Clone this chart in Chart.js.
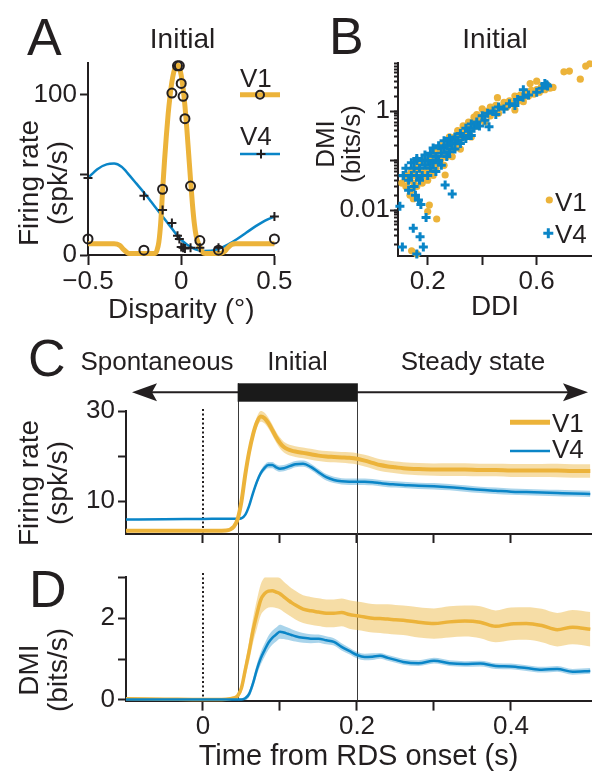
<!DOCTYPE html>
<html>
<head>
<meta charset="utf-8">
<title>Initial disparity signals in V1 and V4</title>
<script src="https://cdn.jsdelivr.net/npm/chart.js@4.4.1/dist/chart.umd.min.js"></script>
<style>
  html, body { margin: 0; padding: 0; background: #fff; }
  #fig { position: relative; width: 592px; height: 779px; overflow: hidden;
         font-family: 'Liberation Sans', Arial, Helvetica, sans-serif; color: #231f20; }
  #fig canvas { position: absolute; display: block; }
  .txt { position: absolute; line-height: 1; white-space: nowrap; }
  .letter { font-size: 52px; }
  .head { font-size: 28px; width: 200px; text-align: center; }
  .phase { font-size: 26px; width: 220px; text-align: center; }
  .leg { font-size: 26px; }
  .ytitle { position: absolute; width: 220px; text-align: center; white-space: nowrap; transform: rotate(-90deg); }
</style>
</head>
<body>
<div id="fig">
  <canvas id="chartA" width="296" height="330" style="left:0;top:0"></canvas>
  <canvas id="chartB" width="296" height="330" style="left:296px;top:0"></canvas>
  <canvas id="chartC" width="592" height="215" style="left:0;top:335px"></canvas>
  <canvas id="chartD" width="592" height="229" style="left:0;top:550px"></canvas>

  <div class="txt letter" style="left:27px;top:11px">A</div>
  <div class="txt letter" style="left:329px;top:10px">B</div>
  <div class="txt letter" style="left:28px;top:332px">C</div>
  <div class="txt letter" style="left:29px;top:563px">D</div>

  <div class="txt head" style="left:82.5px;top:24.6px">Initial</div>
  <div class="txt head" style="left:395px;top:24.6px">Initial</div>

  <div class="txt phase" style="left:47px;top:348px">Spontaneous</div>
  <div class="txt phase" style="left:187.5px;top:348px">Initial</div>
  <div class="txt phase" style="left:363px;top:348px">Steady state</div>

  <div class="txt leg" style="left:240px;top:65px">V1</div>
  <div class="txt leg" style="left:240px;top:123px">V4</div>
  <div class="txt leg" style="left:555px;top:189px">V1</div>
  <div class="txt leg" style="left:555px;top:221px">V4</div>
  <div class="txt leg" style="left:552px;top:409.7px">V1</div>
  <div class="txt leg" style="left:552px;top:436.3px">V4</div>

  <div class="ytitle" style="font-size:28px;line-height:29px;left:-67.5px;top:154px">Firing rate<br>(spk/s)</div>
  <div class="ytitle" style="font-size:26px;line-height:26px;left:228px;top:118px">DMI<br>(bits/s)</div>
  <div class="ytitle" style="font-size:28px;line-height:29px;left:-67.5px;top:454px">Firing rate<br>(spk/s)</div>
  <div class="ytitle" style="font-size:28px;line-height:29px;left:-67.5px;top:641px">DMI<br>(bits/s)</div>
</div>

<script>
// ---- Panel A: example tuning curves (disparity in deg, rate in spk/s)
const dispPoints = [-0.5, -0.2, -0.1, -0.05, -0.02, -0.01, 0, 0.01, 0.02, 0.05, 0.1, 0.2, 0.5];
const ratePointsV1 = [10, 3, 41, 101, 118, 118, 107, 99, 85, 43, 9, 3, 10];
const ratePointsV4 = [48, 37, 28, 20, 12, 10, 5, 4.5, 4, 4.5, 4.5, 4.5, 24];

const fitDispV1 = [-0.5, -0.36, -0.33, -0.31, -0.29, -0.28, -0.14, -0.13, -0.12, -0.11,
                   -0.1, -0.09, -0.08, -0.07, -0.06, -0.05, -0.04, -0.03, -0.02, -0.01,
                   0, 0.01, 0.02, 0.03, 0.04, 0.05, 0.06, 0.07, 0.08, 0.09,
                   0.1, 0.11, 0.12, 0.13, 0.21, 0.23, 0.25, 0.27, 0.29, 0.5];
const fitRateV1 = [7, 7, 6, 3.5, 1.5, 1, 1, 3, 8, 20,
                   40, 58, 74, 88, 99, 108, 114, 117.5, 118.5, 117,
                   112, 104, 93, 79, 63, 47, 32, 20, 12, 8,
                   5, 2.5, 1.2, 1, 1, 2, 4.5, 6.5, 7, 7];
const fitDispV4 = [-0.5, -0.45, -0.4, -0.36, -0.32, -0.28, -0.24, -0.2, -0.16, -0.12, -0.08, -0.05, -0.02,
                   0, 0.03, 0.06, 0.09, 0.12, 0.16, 0.2, 0.25, 0.3, 0.35, 0.4, 0.45, 0.5];
const fitRateV4 = [48, 53.5, 56.5, 57, 55, 50, 44.5, 39, 33, 27, 21, 16.5, 12,
                   9.5, 6.5, 4.5, 3.1, 2.5, 2.6, 3.8, 6.5, 10, 14, 18, 21.5, 24];

const dispTicks = [-0.5, 0, 0.5];
const dispTickLabels = ['\u22120.5', '0', '0.5'];
const rateTicksA = [0, 50, 100];
const rateTickLabelsA = ['0', '', '100'];

// ---- Panel B: DMI vs DDI per neuron, [DDI, DMI]
const scatterV1 = [
  [0.12,0.03],[0.12,0.05],[0.13,0.04],[0.14,0.025],[0.14,0.06],[0.15,0.035],[0.15,0.05],[0.16,0.03],
  [0.16,0.07],[0.17,0.045],[0.17,0.09],[0.18,0.035],[0.18,0.06],[0.19,0.05],[0.19,0.1],[0.2,0.04],
  [0.2,0.07],[0.21,0.06],[0.21,0.11],[0.22,0.05],[0.22,0.09],[0.22,0.15],[0.23,0.07],[0.23,0.12],
  [0.24,0.09],[0.24,0.17],[0.25,0.11],[0.25,0.2],[0.26,0.08],[0.26,0.14],[0.27,0.12],[0.27,0.22],
  [0.28,0.16],[0.28,0.3],[0.29,0.12],[0.29,0.2],[0.3,0.18],[0.3,0.3],[0.31,0.22],[0.31,0.4],
  [0.32,0.28],[0.32,0.17],[0.33,0.35],[0.33,0.5],[0.34,0.3],[0.34,0.45],[0.35,0.38],[0.35,0.6],
  [0.36,0.45],[0.36,0.3],[0.37,0.55],[0.37,0.75],[0.38,0.5],[0.38,0.85],[0.39,0.65],[0.4,0.75],
  [0.4,1.1],[0.41,0.6],[0.41,0.9],[0.42,1.0],[0.43,0.8],[0.43,1.2],[0.44,1.0],[0.45,1.3],
  [0.46,0.9],[0.47,1.2],[0.48,1.5],[0.49,1.2],[0.5,1.6],[0.51,1.4],[0.52,2.0],[0.53,1.6],
  [0.54,2.1],[0.55,1.8],[0.56,2.4],[0.57,2.0],[0.58,2.6],[0.59,2.2],[0.6,2.7],[0.61,2.4],
  [0.62,3.1],[0.63,2.7],[0.64,3.3],[0.66,3.0],
  [0.105,0.035],[0.135,0.02],[0.147,0.017],[0.206,0.0126],[0.2,0.0093],[0.233,0.0066],[0.141,0.0015],
  [0.16,0.0013],[0.264,0.051],[0.456,1.86],[0.52,1.05],[0.551,1.54],[0.576,3.6],[0.649,2.9],
  [0.6,4.0],[0.618,3.1],[0.7,6.2],[0.72,6.4],[0.78,8.1],[0.795,9.0],[0.76,4.4]
];
const scatterV4 = [
  [0.11,0.05],[0.12,0.07],[0.13,0.04],[0.14,0.09],[0.14,0.05],[0.15,0.03],[0.15,0.07],[0.16,0.05],
  [0.16,0.1],[0.17,0.04],[0.17,0.07],[0.18,0.1],[0.18,0.05],[0.19,0.08],[0.19,0.13],[0.2,0.05],
  [0.2,0.1],[0.21,0.07],[0.21,0.14],[0.22,0.09],[0.22,0.18],[0.23,0.06],[0.23,0.12],[0.24,0.1],
  [0.24,0.2],[0.25,0.14],[0.25,0.08],[0.26,0.18],[0.26,0.25],[0.27,0.12],[0.27,0.2],[0.28,0.15],
  [0.28,0.28],[0.29,0.22],[0.3,0.3],[0.3,0.17],[0.31,0.25],[0.32,0.35],[0.32,0.22],[0.33,0.3],
  [0.34,0.45],[0.34,0.28],[0.35,0.4],[0.36,0.55],[0.36,0.32],[0.37,0.45],[0.38,0.6],[0.39,0.5],
  [0.4,0.8],[0.41,0.65],[0.42,0.9],[0.44,1.0],[0.45,0.85],[0.46,1.2],[0.48,1.1],[0.5,1.4],
  [0.52,1.3],[0.53,1.7],[0.55,1.9],[0.57,2.1],[0.6,2.4],[0.62,2.9],[0.64,3.2],
  [0.111,0.049],[0.098,0.012],[0.107,0.0018],[0.147,0.0043],[0.172,0.0029],[0.184,0.0018],[0.16,0.0013],
  [0.194,0.0071],[0.29,0.021],[0.264,0.032],[0.166,0.016],[0.16,0.11],[0.425,0.48],[0.63,3.6],
  [0.551,2.7],[0.637,3.4],[0.155,0.02],[0.175,0.013],[0.13,0.025]
];
const ddiTicks = [0.2, 0.4, 0.6];
const ddiTickLabels = ['0.2', '', '0.6'];
const dmiMajorTicks = [0.01, 0.1, 1];
const dmiTickLabels = { '0.01': '0.01', '1': '1' };

// ---- Panels C, D: population time courses (s from RDS onset)
const timeGrid = [-0.1, -0.05, 0, 0.03, 0.04, 0.045, 0.05, 0.055, 0.06, 0.065,
                  0.07, 0.075, 0.08, 0.085, 0.09, 0.095, 0.1, 0.105, 0.11, 0.115,
                  0.12, 0.13, 0.14, 0.15, 0.16, 0.17, 0.18, 0.19, 0.2, 0.21,
                  0.22, 0.23, 0.24, 0.25, 0.26, 0.28, 0.3, 0.32, 0.34, 0.36,
                  0.38, 0.4, 0.42, 0.44, 0.46, 0.48, 0.503];
const rateV1 = [3.4, 3.4, 3.4, 3.5, 4.3, 6.0, 10, 16, 21, 24.8,
                27.5, 28.8, 28.4, 27.3, 25.8, 24.2, 22.9, 22.0, 21.5, 21.2,
                21.0, 20.7, 20.4, 20.1, 19.9, 19.8, 19.7, 19.6, 19.4, 19.0,
                18.5, 18.0, 17.7, 17.5, 17.3, 17.1, 17.0, 17.0, 17.0, 16.9,
                16.9, 16.8, 16.8, 16.8, 16.8, 16.7, 16.7];
const rateV1Sem = [0.2, 0.2, 0.2, 0.2, 0.25, 0.35, 0.6, 0.8, 1.0, 1.1,
                   1.2, 1.2, 1.2, 1.2, 1.2, 1.2, 1.2, 1.2, 1.2, 1.2,
                   1.2, 1.2, 1.2, 1.2, 1.2, 1.2, 1.2, 1.25, 1.25, 1.3,
                   1.3, 1.3, 1.3, 1.3, 1.35, 1.35, 1.35, 1.4, 1.4, 1.4,
                   1.4, 1.45, 1.45, 1.45, 1.5, 1.5, 1.5];
const rateV4 = [5.9, 6.0, 6.05, 6.1, 6.1, 6.1, 6.2, 7.0, 9.0, 11.8,
                14.3, 16.2, 17.4, 18.0, 18.0, 17.5, 17.2, 17.3, 17.6, 17.9,
                18.2, 18.3, 17.6, 16.4, 15.3, 14.7, 14.4, 14.3, 14.3, 14.3,
                14.2, 14.0, 13.8, 13.7, 13.6, 13.4, 13.3, 13.1, 12.8, 12.5,
                12.3, 12.1, 12.0, 11.9, 11.8, 11.7, 11.6];
const rateV4Sem = [0.15, 0.15, 0.15, 0.15, 0.15, 0.15, 0.2, 0.3, 0.4, 0.5,
                   0.6, 0.65, 0.7, 0.7, 0.7, 0.7, 0.7, 0.7, 0.7, 0.7,
                   0.7, 0.7, 0.7, 0.7, 0.7, 0.7, 0.7, 0.7, 0.7, 0.7,
                   0.7, 0.7, 0.7, 0.7, 0.7, 0.7, 0.7, 0.7, 0.7, 0.7,
                   0.7, 0.7, 0.7, 0.7, 0.7, 0.7, 0.7];
const dmiV1 = [0.03, 0.02, 0.01, 0.02, 0.05, 0.1, 0.3, 0.75, 1.2, 1.7,
               2.1, 2.45, 2.6, 2.66, 2.67, 2.64, 2.6, 2.52, 2.45, 2.38,
               2.32, 2.22, 2.18, 2.15, 2.12, 2.12, 2.14, 2.09, 2.06, 2.03,
               2.0, 1.99, 1.98, 1.96, 1.95, 1.9, 1.87, 1.91, 1.93, 1.9,
               1.8, 1.86, 1.87, 1.82, 1.72, 1.78, 1.73];
const dmiV1Sem = [0.03, 0.03, 0.03, 0.03, 0.04, 0.06, 0.1, 0.18, 0.25, 0.3,
                  0.35, 0.38, 0.4, 0.4, 0.4, 0.39, 0.38, 0.37, 0.36, 0.35,
                  0.35, 0.34, 0.34, 0.34, 0.34, 0.34, 0.34, 0.35, 0.35, 0.35,
                  0.35, 0.35, 0.36, 0.36, 0.36, 0.37, 0.37, 0.38, 0.38, 0.39,
                  0.39, 0.4, 0.4, 0.41, 0.41, 0.42, 0.42];
const dmiV4 = [0.01, 0.01, 0.01, 0.01, 0.01, 0.01, 0.01, 0.04, 0.15, 0.41,
               0.75, 1.02, 1.22, 1.4, 1.52, 1.6, 1.67, 1.65, 1.62, 1.59,
               1.56, 1.52, 1.5, 1.5, 1.46, 1.42, 1.3, 1.2, 1.1, 1.05,
               1.06, 1.08, 1.03, 0.98, 0.93, 0.9, 0.96, 0.9, 0.88, 0.89,
               0.83, 0.82, 0.78, 0.74, 0.76, 0.69, 0.71];
const dmiV4Sem = [0.02, 0.02, 0.02, 0.02, 0.02, 0.02, 0.03, 0.05, 0.08, 0.11,
                  0.13, 0.15, 0.16, 0.17, 0.17, 0.17, 0.17, 0.16, 0.15, 0.14,
                  0.13, 0.12, 0.11, 0.1, 0.1, 0.09, 0.09, 0.08, 0.08, 0.08,
                  0.08, 0.07, 0.07, 0.07, 0.07, 0.07, 0.07, 0.07, 0.07, 0.07,
                  0.07, 0.07, 0.07, 0.07, 0.07, 0.07, 0.07];
const phaseEdges = [0.045, 0.2];
const timeTicks = [0, 0.1, 0.2, 0.3, 0.4];
const timeTickLabels = ['0', '', '0.2', '', '0.4'];
const rateTicksC = [10, 20, 30];
const rateTickLabelsC = ['10', '', '30'];
const dmiTicksD = [0, 1, 2, 3];
const dmiTickLabelsD = ['0', '', '2', ''];

const ink = '#231f20';
const orange = '#ecb33a';
const blue = '#0a85c7';
const orangeBand = 'rgba(236,179,58,0.45)';
const blueBand = 'rgba(10,133,199,0.35)';

Chart.defaults.font.family = "'Liberation Sans', Arial, Helvetica, sans-serif";
Chart.defaults.color = ink;

function pts(xs, ys) { return xs.map((x, i) => ({ x: x, y: ys[i] })); }
function pairs(list) { return list.map(p => ({ x: p[0], y: p[1] })); }
function edge(xs, ys, sem, sign) { return xs.map((x, i) => ({ x: x, y: ys[i] + sign * sem[i] })); }

// thick black axis with outward ticks and no grid, sized by hand
function axis(o) {
  return {
    type: o.type || 'linear',
    position: o.position,
    min: o.min, max: o.max,
    weight: o.weight || 0,
    border: { display: o.border !== false, color: ink, width: 2 },
    grid: { drawOnChartArea: false, drawTicks: true, tickLength: o.tickLength, tickWidth: 2, tickColor: ink },
    ticks: { autoSkip: false, maxRotation: 0, minRotation: 0, padding: o.pad || 3, color: ink,
             font: { size: 26, lineHeight: 1 }, callback: (v, i) => o.labels[i] },
    afterBuildTicks: s => { s.ticks = o.ticks.map(v => ({ value: v })); },
    afterFit: s => {
      if (o.width !== undefined) s.width = o.width;
      if (o.height !== undefined) s.height = o.height;
    },
    title: o.title
      ? { display: true, text: o.title, color: ink, font: { size: o.titleSize || 28 }, padding: { top: 0, bottom: o.titlePad } }
      : { display: false }
  };
}

function drawMarker(ctx, kind, x, y, color, r) {
  ctx.save();
  ctx.lineWidth = 2;
  ctx.strokeStyle = color;
  ctx.fillStyle = color;
  ctx.beginPath();
  if (kind === 'ring') {
    ctx.arc(x, y, r, 0, Math.PI * 2);
    ctx.stroke();
  } else if (kind === 'dot') {
    ctx.arc(x, y, r, 0, Math.PI * 2);
    ctx.fill();
  } else if (kind === 'cross') {
    ctx.lineWidth = o2(r);
    ctx.moveTo(x - r, y); ctx.lineTo(x + r, y);
    ctx.moveTo(x, y - r); ctx.lineTo(x, y + r);
    ctx.stroke();
  }
  ctx.restore();
}
function o2(r) { return r > 4.8 ? 3 : 2; }

// legend symbols (the words are html text)
const legendMarks = {
  id: 'legendMarks',
  afterDraw(chart, args, opts) {
    const ctx = chart.ctx;
    (opts.items || []).forEach(it => {
      if (it.x2 !== undefined) {
        ctx.save();
        ctx.strokeStyle = it.color;
        ctx.lineWidth = it.width;
        ctx.beginPath();
        ctx.moveTo(it.x, it.y);
        ctx.lineTo(it.x2, it.y);
        ctx.stroke();
        ctx.restore();
      }
      if (it.marker) drawMarker(ctx, it.marker, it.mx, it.y, it.markerColor, it.r);
    });
  }
};

// onset line, phase edges, and the phase arrow / bar of panel C
const timeMarks = {
  id: 'timeMarks',
  beforeDatasetsDraw(chart, args, opts) {
    const { ctx, chartArea } = chart;
    const x = chart.scales.x;
    ctx.save();
    ctx.strokeStyle = '#3a3a3a';
    ctx.lineWidth = 1;
    phaseEdges.forEach(t => {
      const px = Math.round(x.getPixelForValue(t)) + 0.5;
      ctx.beginPath();
      ctx.moveTo(px, opts.edgeTop);
      ctx.lineTo(px, opts.edgeBottom === 'canvas' ? chart.height : chartArea.bottom);
      ctx.stroke();
    });
    const p0 = x.getPixelForValue(0);
    ctx.strokeStyle = ink;
    ctx.lineWidth = 2;
    ctx.setLineDash([2, 2.5]);
    ctx.beginPath();
    ctx.moveTo(p0, opts.dotTop);
    ctx.lineTo(p0, chartArea.bottom);
    ctx.stroke();
    ctx.restore();
  },
  afterDraw(chart, args, opts) {
    if (opts.arrowY === undefined) return;
    const { ctx, chartArea } = chart;
    const x = chart.scales.x;
    const y = opts.arrowY;
    const left = chartArea.left + 6;
    const right = chartArea.right - 3;
    ctx.save();
    ctx.strokeStyle = ink;
    ctx.fillStyle = ink;
    ctx.lineWidth = 2;
    ctx.beginPath();
    ctx.moveTo(left + 10, y);
    ctx.lineTo(right - 10, y);
    ctx.stroke();
    [[left, 1], [right, -1]].forEach(([tip, dir]) => {
      ctx.beginPath();
      ctx.moveTo(tip, y);
      ctx.lineTo(tip + dir * 25, y - 9);
      ctx.lineTo(tip + dir * 20, y);
      ctx.lineTo(tip + dir * 25, y + 9);
      ctx.closePath();
      ctx.fill();
    });
    const x1 = x.getPixelForValue(phaseEdges[0]);
    const x2 = x.getPixelForValue(phaseEdges[1]);
    ctx.fillStyle = '#1a1a1a';
    ctx.fillRect(x1, opts.barTop, x2 - x1, opts.barHeight);
    ctx.restore();
  }
};

const base = {
  responsive: false,
  animation: false,
  events: [],
  layout: { autoPadding: false }
};

// ---- A
new Chart(document.getElementById('chartA'), {
  type: 'scatter',
  data: {
    datasets: [
      { label: 'V1 data', data: pts(dispPoints, ratePointsV1), pointStyle: 'circle', pointRadius: 4.5,
        borderWidth: 2, borderColor: ink, backgroundColor: 'rgba(0,0,0,0)', clip: false, order: 0 },
      { label: 'V4 data', data: pts(dispPoints, ratePointsV4), pointStyle: 'cross', pointRadius: 4.5,
        borderWidth: 2, borderColor: ink, clip: false, order: 1 },
      { label: 'V1', data: pts(fitDispV1, fitRateV1), showLine: true, pointRadius: 0, borderColor: orange,
        borderWidth: 5, cubicInterpolationMode: 'monotone', clip: false, order: 2 },
      { label: 'V4', data: pts(fitDispV4, fitRateV4), showLine: true, pointRadius: 0, borderColor: blue,
        borderWidth: 2.5, cubicInterpolationMode: 'monotone', clip: false, order: 3 }
    ]
  },
  options: Object.assign({}, base, {
    layout: { autoPadding: false, padding: { left: 0, top: 62.6, right: 18.5, bottom: 0 } },
    plugins: {
      legend: { display: false }, tooltip: { enabled: false },
      legendMarks: { items: [
        { x: 240, x2: 280, y: 94.7, color: orange, width: 5, marker: 'ring', mx: 260, markerColor: ink, r: 4 },
        { x: 240, x2: 280, y: 154, color: blue, width: 2.5, marker: 'cross', mx: 261, markerColor: ink, r: 4.5 }
      ] }
    },
    scales: {
      x: axis({ position: 'bottom', min: -0.5, max: 0.5, ticks: dispTicks, labels: dispTickLabels,
                tickLength: 10, pad: 3.5, height: 75, title: 'Disparity (\u00b0)', titlePad: 2.7 }),
      y: axis({ position: 'left', min: 0, max: 120, ticks: rateTicksA, labels: rateTickLabelsA,
                tickLength: 8, width: 88 })
    }
  }),
  plugins: [legendMarks]
});

// ---- B
new Chart(document.getElementById('chartB'), {
  type: 'scatter',
  data: {
    datasets: [
      { label: 'V4', data: pairs(scatterV4), pointStyle: 'cross', pointRadius: 4.5, borderWidth: 3,
        borderColor: blue, clip: false, order: 0 },
      { label: 'V1', data: pairs(scatterV1), pointStyle: 'circle', pointRadius: 3.6, borderWidth: 0,
        backgroundColor: orange, clip: false, order: 1 }
    ]
  },
  options: Object.assign({}, base, {
    layout: { autoPadding: false, padding: { left: 0, top: 63.3, right: 0, bottom: 0 } },
    plugins: {
      legend: { display: false }, tooltip: { enabled: false },
      legendMarks: { items: [
        { marker: 'dot', mx: 253.3, y: 200, markerColor: orange, r: 3.6 },
        { marker: 'cross', mx: 252.3, y: 233.3, markerColor: blue, r: 5 }
      ] }
    },
    scales: {
      x: axis({ position: 'bottom', min: 0.091, max: 0.803, ticks: ddiTicks, labels: ddiTickLabels,
                tickLength: 9, pad: 3.7, height: 74, title: 'DDI', titlePad: 5.7 }),
      y: axis({ type: 'logarithmic', position: 'left', min: 0.00118, max: 9.2, weight: 1,
                ticks: dmiMinorTicks(), labels: dmiMinorTicks().map(v => dmiTickLabels[String(v)] || ''),
                tickLength: 4, pad: 4, width: 102 }),
      yMajor: axis({ type: 'logarithmic', position: 'left', min: 0.00118, max: 9.2, weight: 0,
                     ticks: dmiMajorTicks, labels: dmiMajorTicks.map(() => ''), tickLength: 8,
                     width: 0, border: false })
    }
  }),
  plugins: [legendMarks]
});

function dmiMinorTicks() {
  const out = [];
  [0.001, 0.01, 0.1, 1].forEach(dec => {
    [1, 2, 3, 4, 5, 6, 7, 8, 9].forEach(m => {
      const v = +(m * dec).toPrecision(3);
      if (v >= 0.00118 && v <= 9.2) out.push(v);
    });
  });
  return out;
}

// ---- C and D share the time axis
function timeDatasets(v1, v1Sem, v4, v4Sem, w1, w4, v4OnTop) {
  return [
    { label: 'V1', data: pts(timeGrid, v1), borderColor: orange, borderWidth: w1, order: v4OnTop ? 1 : 0 },
    { label: 'V4', data: pts(timeGrid, v4), borderColor: blue, borderWidth: w4, order: v4OnTop ? 0 : 1 },
    { label: 'V1 lower', data: edge(timeGrid, v1, v1Sem, -1), borderWidth: 0, fill: false, order: 3 },
    { label: 'V1 upper', data: edge(timeGrid, v1, v1Sem, 1), borderWidth: 0, fill: '-1', backgroundColor: orangeBand, order: 3 },
    { label: 'V4 lower', data: edge(timeGrid, v4, v4Sem, -1), borderWidth: 0, fill: false, order: 2 },
    { label: 'V4 upper', data: edge(timeGrid, v4, v4Sem, 1), borderWidth: 0, fill: '-1', backgroundColor: blueBand, order: 2 }
  ].map(d => Object.assign({ pointRadius: 0, cubicInterpolationMode: 'monotone', clip: false }, d));
}

new Chart(document.getElementById('chartC'), {
  type: 'line',
  data: { datasets: timeDatasets(rateV1, rateV1Sem, rateV4, rateV4Sem, 4, 2.5, false) },
  options: Object.assign({}, base, {
    layout: { autoPadding: false, padding: { left: 0, top: 76, right: 1, bottom: 0 } },
    plugins: {
      legend: { display: false }, tooltip: { enabled: false },
      timeMarks: { edgeTop: 48.3, edgeBottom: 'canvas', dotTop: 74, arrowY: 57.3, barTop: 48.3, barHeight: 18.4 },
      legendMarks: { items: [
        { x: 510, x2: 550, y: 87.3, color: orange, width: 5 },
        { x: 510, x2: 550, y: 116, color: blue, width: 2.5 }
      ] }
    },
    scales: {
      x: axis({ position: 'bottom', min: -0.1, max: 0.5039, ticks: timeTicks, labels: timeTicks.map(() => ''),
                tickLength: 9, height: 11.7 }),
      y: axis({ position: 'left', min: 2.7, max: 30, ticks: rateTicksC, labels: rateTickLabelsC,
                tickLength: 8, width: 126 })
    }
  }),
  plugins: [timeMarks, legendMarks]
});

new Chart(document.getElementById('chartD'), {
  type: 'line',
  data: { datasets: timeDatasets(dmiV1, dmiV1Sem, dmiV4, dmiV4Sem, 3.5, 2.5, true) },
  options: Object.assign({}, base, {
    layout: { autoPadding: false, padding: { left: 0, top: 27.3, right: 1, bottom: 0 } },
    plugins: {
      legend: { display: false }, tooltip: { enabled: false },
      timeMarks: { edgeTop: 0, dotTop: 23 }
    },
    scales: {
      x: axis({ position: 'bottom', min: -0.1, max: 0.5039, ticks: timeTicks, labels: timeTickLabels,
                tickLength: 10, pad: 3.7, height: 78.4, title: 'Time from RDS onset (s)', titleSize: 29, titlePad: 4.9 }),
      y: axis({ position: 'left', min: -0.015, max: 3, ticks: dmiTicksD, labels: dmiTickLabelsD,
                tickLength: 8, width: 126 })
    }
  }),
  plugins: [timeMarks]
});
</script>
</body>
</html>
